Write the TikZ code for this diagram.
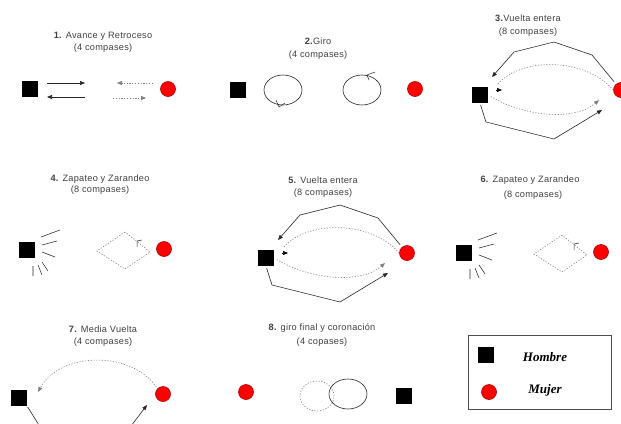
\documentclass[tikz,border=0pt]{standalone}
\usepackage{fontspec}
\setmainfont{Liberation Sans}
\newfontfamily\legendfont{Liberation Serif}
\usetikzlibrary{arrows.meta,shapes.geometric}

\tikzset{
  hombre/.style={fill=black, draw=none, minimum size=16pt, inner sep=0pt},
  mujer/.style={circle, fill=red, draw=red!65!black, line width=0.6pt, minimum size=15pt, inner sep=0pt},
  caption/.style={font=\addfontfeatures{LetterSpace=3}\fontsize{9.2}{10}\selectfont, text=black!75, inner sep=0pt},
  legendtext/.style={font=\legendfont\bfseries\itshape\fontsize{13}{15}\selectfont, inner sep=0pt},
  trace/.style={line width=0.6pt, black!85},
  trail/.style={line width=0.6pt, gray, dash pattern=on 1.2pt off 1.6pt},
  tipped/.style={-{Triangle[length=5pt,width=4pt]}},
  % full turn: square and circle with the four looping paths
  vuelta/.pic={
    \node[hombre] (-h) at (0,0) {};
    \node[mujer]  (-m) at (141,-5) {};
    \coordinate (-t1) at (112,-40);
    \coordinate (-t2) at (74,-53);
    \coordinate (-t3) at (34,-43);
    \coordinate (-t4) at (12,-18);
    \coordinate (-b1) at (6,27);
    \coordinate (-b2) at (74,44);
    \coordinate (-b3) at (122,15);
    \coordinate (-d1) at (17,-10);
    \coordinate (-d2) at (119,5);
    \draw[trace, tipped, shorten <=3pt] (-m.130) -- (-t1) -- (-t2) -- (-t3) -- (-t4);
    \draw[trace, tipped, shorten <=2pt] (-h.south) -- (-b1) -- (-b2) -- (-b3);
    \draw[trail] (-m.west) .. controls (105,-38) and (40,-38) .. (-d1);
    \draw[tipped, line width=0.5pt] (16,-5) -- (22,-5);
    \draw[trail, tipped, shorten <=3pt] (-h.east) .. controls (45,22) and (95,26) .. (-d2);
  },
  % foot stamping: square with strike marks, dotted diamond, circle
  zapateo/.pic={
    \node[hombre] (-h) at (0,0) {};
    \node[mujer]  (-m) at (137,-1) {};
    \draw[trace, line width=0.55pt]
      (14,-13) -- (33,-20)
      (15,-5) -- (30,-9)
      (15,2) -- (28,7)
      (6,16) -- (6,26)
      (11,15) -- (15,25)
      (15,12) -- (21,21);
    \coordinate (-top) at (98,-18);
    \coordinate (-lft) at (70,1);
    \coordinate (-bot) at (98,19);
    \coordinate (-rgt) at (123,2);
    \draw[trail] (-top) -- (-lft) -- (-bot) -- (-rgt) -- cycle;
    \draw[trace, line width=0.5pt] (110,-3) -- (110,-9) -- (115,-10);
  }
}

\begin{document}
\begin{tikzpicture}[x=1pt, y=-1pt]
\clip (0,0) rectangle (621,423);
\fill[white] (0,0) rectangle (621,423);

% 1. forward and back
\node[caption] (c1a) at (103,36) {\textbf{1.} Avance y Retroceso};
\node[caption] (c1b) at (103,48) {(4 compases)};
\node[hombre] (h1) at (30,89) {};
\node[mujer]  (m1) at (168,89) {};
\coordinate (a1s) at (47,83);  \coordinate (a1e) at (85,83);
\coordinate (a2s) at (85,97);  \coordinate (a2e) at (47,97);
\coordinate (a3s) at (153,83); \coordinate (a3e) at (117,83);
\coordinate (a4s) at (113,98); \coordinate (a4e) at (146,98);
\draw[trace, tipped] (a1s) -- (a1e);
\draw[trace, tipped] (a2s) -- (a2e);
\draw[trail, tipped] (a3s) -- (a3e);
\draw[trail, tipped] (a4s) -- (a4e);

% 2. spin
\node[caption] (c2a) at (318,41) {\textbf{2.}Giro};
\node[caption] (c2b) at (318,55) {(4 compases)};
\node[hombre] (h2) at (238,90) {};
\node[mujer]  (m2) at (415,89) {};
\node[draw, trace, ellipse, minimum width=38pt, minimum height=30pt, inner sep=0pt] (g2l) at (283,90) {};
\node[draw, trace, ellipse, minimum width=38pt, minimum height=30pt, inner sep=0pt] (g2r) at (362,90) {};
\draw[trace, line width=0.5pt] (276,100) -- (279,107) -- (285,103);
\draw[trace, line width=0.5pt] (375,72) -- (367,75) -- (369,80);

% 3. full turn
\node[caption] (c3a) at (528,18) {\textbf{3.}Vuelta entera};
\node[caption] (c3b) at (528,32) {(8 compases)};
\pic (v3) at (480,95) {vuelta};

% 4. stamping
\node[caption] (c4a) at (100,179) {\textbf{4.} Zapateo y Zarandeo};
\node[caption] (c4b) at (100,190) {(8 compases)};
\pic (z4) at (27,250) {zapateo};

% 5. full turn
\node[caption] (c5a) at (323,180) {\textbf{5.} Vuelta entera};
\node[caption] (c5b) at (323,193) {(8 compases)};
\pic (v5) at (266,258) {vuelta};

% 6. stamping
\node[caption] (c6a) at (530,180) {\textbf{6.} Zapateo y Zarandeo};
\node[caption] (c6b) at (533,195) {(8 compases)};
\pic (z6) at (464,253) {zapateo};

% 7. half turn
\node[caption] (c7a) at (103,329) {\textbf{7.} Media Vuelta};
\node[caption] (c7b) at (103,342) {(4 compases)};
\node[hombre] (h7) at (19,398) {};
\node[mujer]  (m7) at (163,394) {};
\coordinate (d7) at (38,392);
\coordinate (b7a) at (42,430);
\coordinate (b7b) at (128,430);
\coordinate (b7c) at (147,405);
\draw[trail, tipped, shorten <=2pt] (m7.north west) .. controls (130,350) and (60,352) .. (d7);
\draw[trace, tipped, shorten <=1pt] (h7.south east) -- (b7a) -- (b7b) -- (b7c);

% 8. final spin and crowning
\node[caption] (c8a) at (322,328) {\textbf{8.} giro final y coronación};
\node[caption] (c8b) at (322,342) {(4 copases)};
\node[mujer]  (m8) at (246,392) {};
\node[draw, trail, ellipse, minimum width=34pt, minimum height=30pt, inner sep=0pt] (g8l) at (317,396) {};
\node[draw, trace, ellipse, minimum width=38pt, minimum height=30pt, inner sep=0pt] (g8r) at (348,394) {};
\node[hombre] (h8) at (404,396) {};

% legend
\node[draw=black!70, line width=0.8pt, minimum width=143pt, minimum height=74pt, inner sep=0pt] (key) at (539.5,372) {};
\node[hombre] (kh) at (486,355) {};
\node[mujer]  (km) at (489,392) {};
\node[legendtext] (kht) at (545,357) {Hombre};
\node[legendtext] (kmt) at (545,390) {Mujer};
\end{tikzpicture}
\end{document}
